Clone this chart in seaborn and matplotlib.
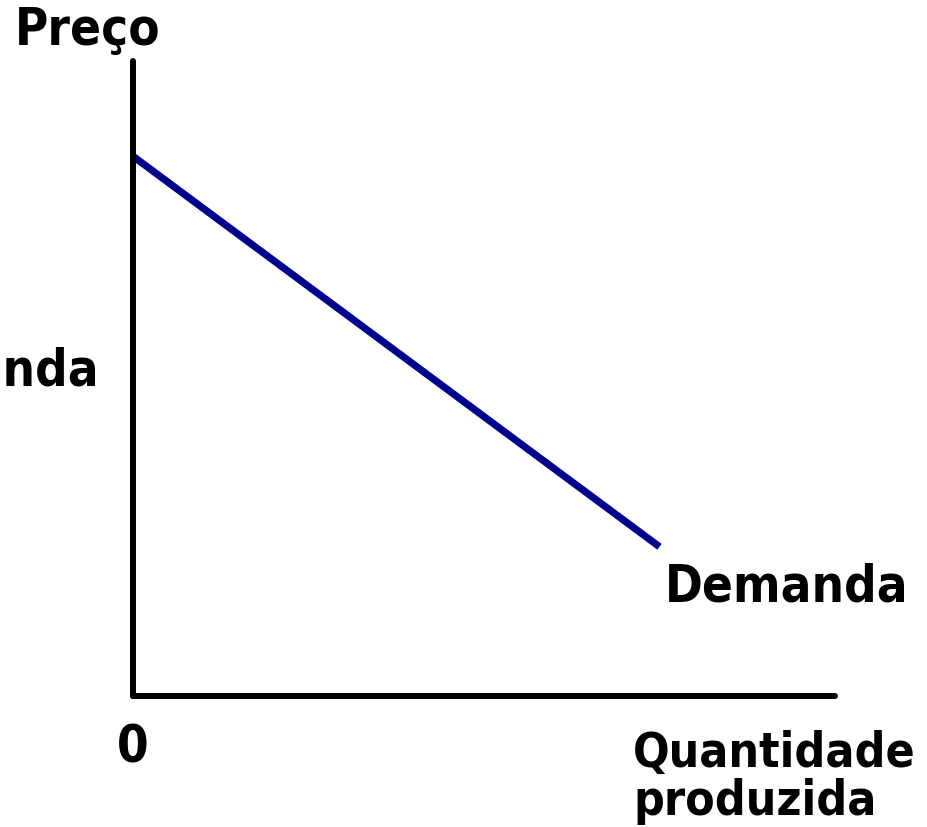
#Import libraries
import matplotlib
matplotlib.use('Agg')
import pandas as pd
import seaborn as sns
import matplotlib.pyplot as plt

#Demand curve data (quantity vs price, arbitrary units 0-10)
quantity = [0.0, 7.5]
price = [8.5, 2.35]

#Labels
y_label = 'Preço'
x_label_lines = ['Quantidade', 'produzida']
curve_label = 'Demanda'
origin_label = '0'

sns.set_style('white')
plt.rcParams['font.family'] = ['DejaVu Sans']

W, H = 928, 828
fig = plt.figure(figsize=(W / 100, H / 100), dpi=100)

#Axes box in pixels: x 133..835, y 62..697
ax = fig.add_axes([133 / W, (H - 697) / H, (835 - 133) / W, (697 - 62) / H])

demand = pd.DataFrame({'Quantidade': quantity, 'Preco': price})
sns.lineplot(data=demand, x='Quantidade', y='Preco', ax=ax,
             color='#00008f', linewidth=5.2, solid_capstyle='butt')

ax.set_xlim(0, 10)
ax.set_ylim(0, 10)
ax.set_xticks([])
ax.set_yticks([])
ax.set_xlabel('')
ax.set_ylabel('')
for side in ['top', 'right']:
    ax.spines[side].set_visible(False)
for side in ['left', 'bottom']:
    ax.spines[side].set_color('black')
    ax.spines[side].set_linewidth(4.3)
    ax.spines[side].set_capstyle('round')

font = dict(family='DejaVu Sans', fontweight='bold', fontsize=36.5,
            fontstretch='condensed', color='black')

fig.text(15 / W, 1 - 45 / H, y_label, ha='left', va='baseline', **font)
#label cut off at the left edge, as in the original slide
fig.text(99 / W, 1 - 385 / H, curve_label, ha='right', va='baseline', **font)
fig.text(665 / W, 1 - 602 / H, curve_label, ha='left', va='baseline', **font)
fig.text(133 / W, 1 - 763 / H, origin_label, ha='center', va='baseline', **font)
x_font = dict(font, fontsize=34.5)
for i, line in enumerate(x_label_lines):
    fig.text(633 / W, 1 - (767 + 48 * i) / H, line, ha='left', va='baseline', **x_font)

fig.savefig('out.png', dpi=100)
